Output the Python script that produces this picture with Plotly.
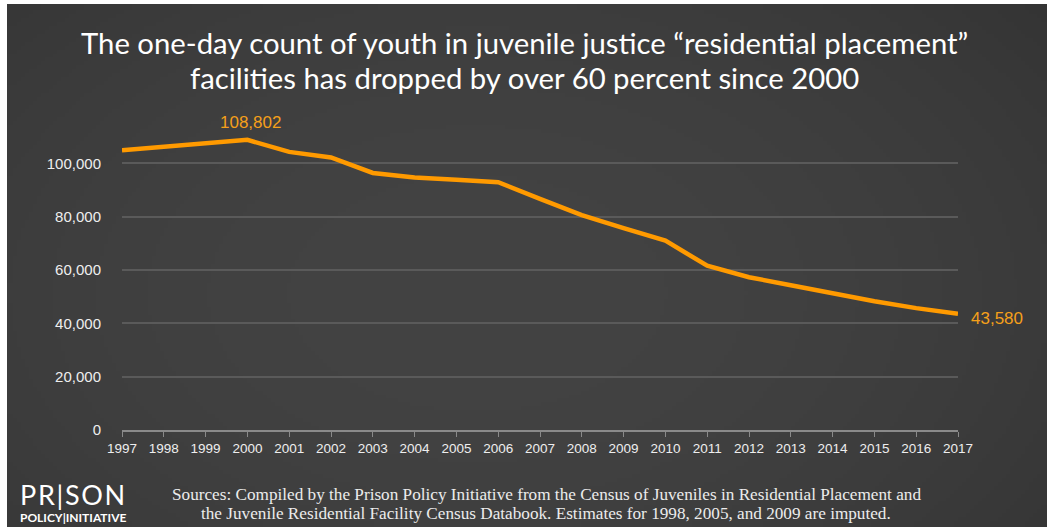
import base64, struct, zlib
import numpy as np
import plotly.graph_objects as go

years = list(range(1997, 2018))
youth_count = [104900, 106200, 107500, 108802, 104300, 102200, 96400, 94700, 93800, 92900,
               86700, 80600, 75700, 71000, 61600, 57300, 54300, 51100, 48300, 45700, 43580]
y_ticks = [0, 20000, 40000, 60000, 80000, 100000]

title_lines = ["The one-day count of youth in juvenile justice \u201cresidential placement\u201d",
               "facilities has dropped by over 60 percent since 2000"]
source_lines = ["Sources: Compiled by the Prison Policy Initiative from the Census of Juveniles in Residential Placement and",
                "the Juvenile Residential Facility Census Databook. Estimates for 1998, 2005, and 2009 are imputed."]

W, H = 1047, 527
ML, MR, MT, MB = 122, 89, 110, 97
PW, PH = W - ML - MR, H - MT - MB

def px(x):
    return (x - ML) / PW

def py(y):
    return (H - MB - y) / PH

# radial gradient background as PNG
gw, gh = 262, 132
yy, xx = np.mgrid[0:gh, 0:gw]
cx, cy = gw * 0.45, gh * 0.55
r = np.sqrt(((xx - cx) / (gw * 0.6)) ** 2 + ((yy - cy) / (gh * 0.75)) ** 2)
v = 0x43 - (0x43 - 0x31) * np.clip(r, 0, 1.3) ** 2 / 1.69
v = np.clip(v, 0, 255).astype(np.uint8)
rgb = np.stack([v, v, v], axis=-1)
raw = b"".join(b"\x00" + rgb[i].tobytes() for i in range(gh))

def chunk(t, d):
    c = struct.pack(">I", len(d)) + t + d
    return c + struct.pack(">I", zlib.crc32(t + d) & 0xffffffff)

png = b"\x89PNG\r\n\x1a\n" + chunk(b"IHDR", struct.pack(">IIBBBBB", gw, gh, 8, 2, 0, 0, 0)) \
    + chunk(b"IDAT", zlib.compress(raw, 9)) + chunk(b"IEND", b"")
bg_src = "data:image/png;base64," + base64.b64encode(png).decode()

fig = go.Figure()
fig.add_trace(go.Scatter(x=years, y=youth_count, mode="lines",
                         line=dict(color="#ff9a00", width=4.5), hoverinfo="skip"))

fig.add_layout_image(dict(source=bg_src, xref="paper", yref="paper",
                          x=px(7), y=py(4), sizex=(W - 7) / PW, sizey=(H - 4) / PH,
                          xanchor="left", yanchor="top", sizing="stretch", layer="below"))

num_font = dict(family="Liberation Sans, Arial", size=17, color="#f5a01a")
annos = []
peak_i = youth_count.index(max(youth_count))
annos.append(dict(x=years[peak_i], y=youth_count[peak_i], xref="x", yref="y",
                  text=f"{youth_count[peak_i]:,}", showarrow=False, xanchor="center",
                  yanchor="middle", xshift=3, yshift=17, font=num_font))
annos.append(dict(x=years[-1], y=youth_count[-1], xref="x", yref="y",
                  text=f"{youth_count[-1]:,}", showarrow=False, xanchor="left",
                  yanchor="middle", xshift=11, yshift=-5, font=num_font))

title_font = dict(family="Lato, Noto Sans, sans-serif", size=29.3, color="#ffffff")
for line, yc in zip(title_lines, [42, 77]):
    annos.append(dict(x=px(524), y=py(yc), xref="paper", yref="paper", text=line,
                      showarrow=False, xanchor="center", yanchor="middle", font=title_font))

src_font = dict(family="Liberation Serif, serif", size=17.2, color="#ececec")
for line, yc in zip(source_lines, [494, 513]):
    annos.append(dict(x=px(546), y=py(yc), xref="paper", yref="paper", text=line,
                      showarrow=False, xanchor="center", yanchor="middle", font=src_font))

hs = "\u200a"
annos.append(dict(x=px(18), y=py(494), xref="paper", yref="paper", xanchor="left",
                  yanchor="middle", text=hs.join("PR|SON"), showarrow=False,
                  font=dict(family="Lato, Noto Sans, sans-serif", size=27, color="#ffffff")))
annos.append(dict(x=px(18), y=py(517), xref="paper", yref="paper", xanchor="left",
                  yanchor="middle", text="<b>POLICY|INITIATIVE</b>", showarrow=False,
                  font=dict(family="Lato, Noto Sans, sans-serif", size=12, color="#ffffff")))

fig.update_layout(
    width=W, height=H,
    margin=dict(l=ML, r=MR, t=MT, b=MB, pad=0),
    paper_bgcolor="#ffffff", plot_bgcolor="rgba(0,0,0,0)",
    showlegend=False, annotations=annos,
    xaxis=dict(range=[years[0], years[-1]], tickmode="array", tickvals=years,
               ticktext=[str(y) for y in years], showgrid=False, zeroline=False,
               showline=True, linecolor="#8a8a8a", linewidth=1.5,
               ticks="outside", ticklen=5, tickcolor="#8a8a8a", tickwidth=1,
               tickfont=dict(family="Liberation Sans, Arial", size=13.5, color="#eeeeee")),
    yaxis=dict(range=[0, 120000], tickmode="array", tickvals=y_ticks,
               ticktext=[f"{t:,}" for t in y_ticks], showgrid=True, gridcolor="#5a5a5a",
               gridwidth=1.5, zeroline=False, showline=False, ticks="",
               ticklabelstandoff=20,
               tickfont=dict(family="Liberation Sans, Arial", size=15, color="#eeeeee")),
)

fig.write_html("out.html", config={"displayModeBar": False},
               post_script="document.body.style.margin='0';document.body.style.padding='0';")
